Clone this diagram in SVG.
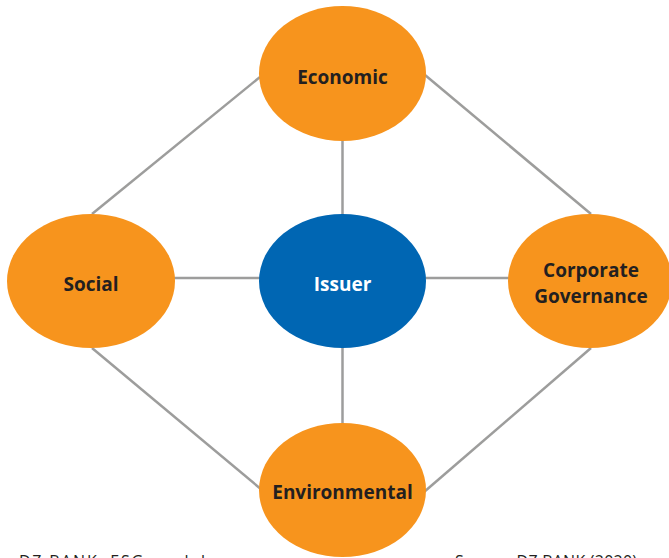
<svg xmlns="http://www.w3.org/2000/svg" width="669" height="558" viewBox="0 0 669 558">
<style>
.orange{fill:#F7941D}
.blue{fill:#0066B3}
.lbl{font-family:"Open Sans","Noto Sans",sans-serif;font-weight:700;font-size:19px;text-anchor:middle;fill:#231F20}
.wlbl{fill:#FFFFFF}
.edge{stroke:#9D9D9C;stroke-width:2.5;fill:none}
.note{font-family:"Open Sans","Noto Sans",sans-serif;font-size:16px;fill:#231F20}
</style>
<rect width="669" height="558" fill="#FFFFFF"/>
<g id="connectors">
<line class="edge" x1="260" y1="77" x2="92" y2="214"/>
<line class="edge" x1="425" y1="75" x2="591" y2="214"/>
<line class="edge" x1="92" y1="348" x2="262" y2="490"/>
<line class="edge" x1="591" y1="348" x2="424" y2="492"/>
<line class="edge" x1="342.5" y1="140" x2="342.5" y2="215"/>
<line class="edge" x1="342.5" y1="347" x2="342.5" y2="424"/>
<line class="edge" x1="174" y1="278" x2="260" y2="278"/>
<line class="edge" x1="425" y1="278" x2="509" y2="278"/>
</g>
<g id="economic">
<ellipse class="orange" cx="342.5" cy="73.5" rx="83.5" ry="67.5"/>
<text class="lbl" x="342.5" y="84">Economic</text>
</g>
<g id="social">
<ellipse class="orange" cx="91" cy="281" rx="84" ry="67"/>
<text class="lbl" x="91" y="291">Social</text>
</g>
<g id="issuer">
<ellipse class="blue" cx="342.5" cy="281" rx="83.5" ry="67"/>
<text class="lbl wlbl" x="342.5" y="291">Issuer</text>
</g>
<g id="corporate-governance">
<ellipse class="orange" cx="590" cy="281" rx="82" ry="67"/>
<text class="lbl" x="591" y="277">Corporate</text>
<text class="lbl" x="591" y="303">Governance</text>
</g>
<g id="environmental">
<ellipse class="orange" cx="342.5" cy="490" rx="83.5" ry="67"/>
<text class="lbl" x="342.5" y="499">Environmental</text>
</g>
<text class="note" x="19" y="567" textLength="186" lengthAdjust="spacing">DZ BANK: ESG model</text>
<text class="note" x="455" y="567" textLength="182" lengthAdjust="spacing">Source: DZ BANK (2020)</text>
</svg>
